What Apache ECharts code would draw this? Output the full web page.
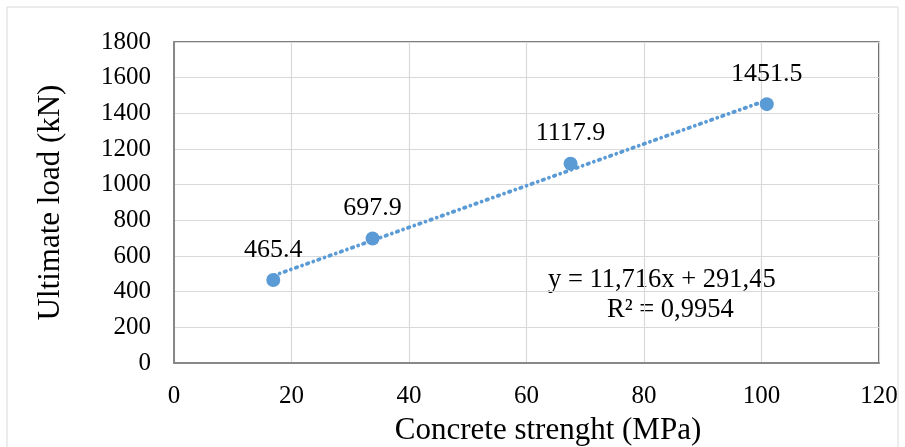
<!DOCTYPE html>
<html>
<head>
<meta charset="utf-8">
<script src="https://cdn.jsdelivr.net/npm/echarts@6/dist/echarts.min.js"></script>
<style>
html,body{margin:0;padding:0;background:#fff;}
#c{width:905px;height:447px;}
</style>
</head>
<body>
<div id="c"></div>
<script>
// Data
const strength = [16.9, 33.8, 67.5, 100.9];          // Concrete strength (MPa)
const load = [465.4, 697.9, 1117.9, 1451.5];          // Ultimate load (kN)
const dataLabels = ['465.4', '697.9', '1117.9', '1451.5'];
const trendSlope = 11.716;
const trendIntercept = 291.45;
const trendText = ['y = 11,716x + 291,45', 'R² = 0,9954'];
const xTitle = 'Concrete strenght (MPa)';
const yTitle = 'Ultimate load (kN)';
const xTicks = [0, 20, 40, 60, 80, 100, 120];
const yTicks = [0, 200, 400, 600, 800, 1000, 1200, 1400, 1600, 1800];

const points = strength.map((x, i) => [x, load[i]]);
const xMin = Math.min(...strength), xMax = Math.max(...strength);
const trend = [[xMin, trendSlope * xMin + trendIntercept], [xMax, trendSlope * xMax + trendIntercept]];

const font = '"Liberation Serif", "Times New Roman", serif';
const chart = echarts.init(document.getElementById('c'), null, {renderer: 'canvas'});
chart.setOption({
  backgroundColor: '#fff',
  animation: false,
  grid: {left: 174, right: 26, top: 42, bottom: 84, show: true, borderColor: '#000', borderWidth: 1.2, backgroundColor: 'transparent'},
  xAxis: {
    type: 'value', min: xTicks[0], max: xTicks[xTicks.length - 1], interval: xTicks[1] - xTicks[0],
    axisLine: {show: true, onZero: false, lineStyle: {color: '#888', width: 2}},
    axisTick: {show: false},
    axisLabel: {fontFamily: font, fontSize: 25, color: '#000', margin: 21, formatter: v => String(v)},
    splitLine: {show: true, lineStyle: {color: '#d9d9d9', width: 1.2}}
  },
  yAxis: {
    type: 'value', min: yTicks[0], max: yTicks[yTicks.length - 1], interval: yTicks[1] - yTicks[0],
    name: yTitle, nameLocation: 'middle', nameGap: 108, nameRotate: 90,
    nameTextStyle: {fontFamily: font, fontSize: 31, color: '#000'},
    axisLine: {show: true, onZero: false, lineStyle: {color: '#888', width: 2}},
    axisTick: {show: false},
    axisLabel: {fontFamily: font, fontSize: 25, color: '#000', margin: 23, formatter: v => String(v)},
    splitLine: {show: true, lineStyle: {color: '#d9d9d9', width: 1.2}}
  },
  graphic: [
    {type: 'rect', shape: {x: 7, y: 7, width: 891, height: 445}, style: {fill: 'none', stroke: '#d9d9d9', lineWidth: 1}, silent: true, z: -1},
    {type: 'text', x: 548, y: 431, style: {text: xTitle, font: '31px ' + font, fill: '#000', align: 'center', verticalAlign: 'middle'}},
    {type: 'text', left: 548, top: 267, style: {text: trendText[0], font: '26.5px ' + font, fill: '#000'}},
    {type: 'text', left: 607, top: 297, style: {text: trendText[1], font: '26.5px ' + font, fill: '#000'}}
  ],
  series: [
    {
      type: 'line', data: trend, showSymbol: false, symbol: 'none',
      lineStyle: {color: '#5B9BD5', width: 3.8, type: [1.5, 5.2, 0.01, 5.2], cap: 'round'},
      z: 2
    },
    {
      type: 'scatter', data: points, symbol: 'circle', symbolSize: 14,
      itemStyle: {color: '#5B9BD5', opacity: 1},
      label: {show: true, position: 'top', distance: 10, fontFamily: font, fontSize: 26, color: '#000', opacity: 1,
        formatter: p => dataLabels[p.dataIndex]},
      z: 3
    }
  ]
});
</script>
</body>
</html>
